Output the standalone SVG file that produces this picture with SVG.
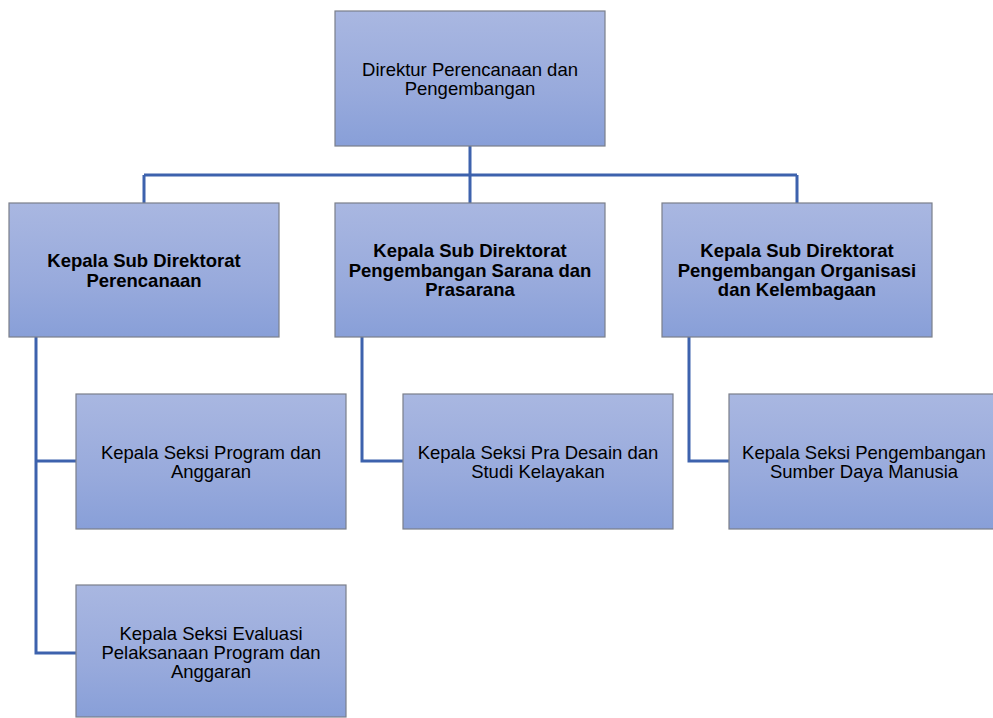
<svg xmlns="http://www.w3.org/2000/svg" width="993" height="718" viewBox="0 0 993 718">
<defs>
<linearGradient id="g" x1="0" y1="0" x2="0" y2="1">
<stop offset="0" stop-color="#a9b7e1"/>
<stop offset="0.6" stop-color="#98aadc"/>
<stop offset="1" stop-color="#889fd8"/>
</linearGradient>
</defs>
<style>
.box{fill:url(#g);stroke:#7b7f8a;stroke-width:1.2}
.t{font-family:"Liberation Sans",Arial,sans-serif;font-size:18.5px;fill:#000;text-anchor:middle}
.b{font-weight:bold}
.c{fill:none;stroke:#3d62ad;stroke-width:3}
</style>
<rect width="993" height="718" fill="#fff"/>
<g id="connectors">
<path class="c" d="M470,146V175M144,175H797M144,175V203M470,175V203M797,175V203"/>
<path class="c" d="M36,337V653H76M36,461H76"/>
<path class="c" d="M362,337V461H403"/>
<path class="c" d="M689,337V461H729"/>
</g>
<g id="n0">
<rect class="box" x="335" y="11" width="270" height="135"/>
<text class="t" x="470" y="75.5">Direktur Perencanaan dan</text>
<text class="t" x="470" y="94.5">Pengembangan</text>
</g>
<g id="n1">
<rect class="box" x="9" y="203" width="270" height="134"/>
<text class="t b" x="144" y="267">Kepala Sub Direktorat</text>
<text class="t b" x="144" y="286.5">Perencanaan</text>
</g>
<g id="n2">
<rect class="box" x="335" y="203" width="270" height="134"/>
<text class="t b" x="470" y="257">Kepala Sub Direktorat</text>
<text class="t b" x="470" y="276.5">Pengembangan Sarana dan</text>
<text class="t b" x="470" y="296">Prasarana</text>
</g>
<g id="n3">
<rect class="box" x="662" y="203" width="270" height="134"/>
<text class="t b" x="797" y="257">Kepala Sub Direktorat</text>
<text class="t b" x="797" y="276.5">Pengembangan Organisasi</text>
<text class="t b" x="797" y="296">dan Kelembagaan</text>
</g>
<g id="n4">
<rect class="box" x="76" y="394" width="270" height="135"/>
<text class="t" x="211" y="458.5">Kepala Seksi Program dan</text>
<text class="t" x="211" y="477.5">Anggaran</text>
</g>
<g id="n5">
<rect class="box" x="76" y="585" width="270" height="132"/>
<text class="t" x="211" y="639.5">Kepala Seksi Evaluasi</text>
<text class="t" x="211" y="658.5">Pelaksanaan Program dan</text>
<text class="t" x="211" y="677.5">Anggaran</text>
</g>
<g id="n6">
<rect class="box" x="403" y="394" width="270" height="135"/>
<text class="t" x="538" y="458.5">Kepala Seksi Pra Desain dan</text>
<text class="t" x="538" y="477.5">Studi Kelayakan</text>
</g>
<g id="n7">
<rect class="box" x="729" y="394" width="270" height="135"/>
<text class="t" x="864" y="458.5">Kepala Seksi Pengembangan</text>
<text class="t" x="864" y="477.5">Sumber Daya Manusia</text>
</g>
</svg>
